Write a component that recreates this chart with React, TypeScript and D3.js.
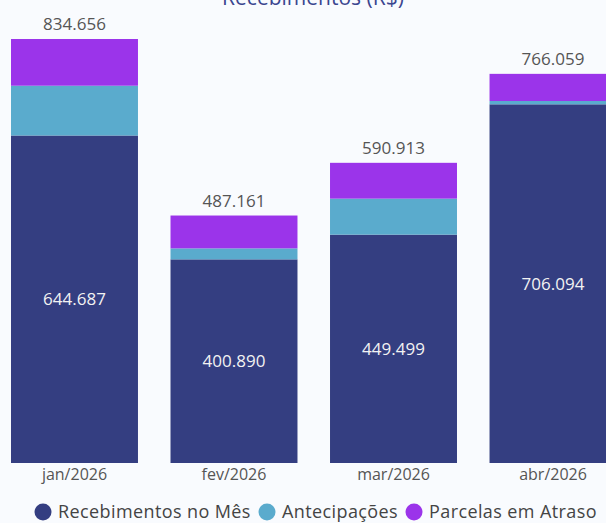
import React from "react";
import * as d3 from "d3";

const months = ["jan/2026", "fev/2026", "mar/2026", "abr/2026"];
const recebimentos = [644.687, 400.89, 449.499, 706.094];
const antecipacoes = [98.0, 21.6, 70.9, 6.5];
const atraso = [91.969, 64.671, 70.514, 53.465];
const totals = ["834.656", "487.161", "590.913", "766.059"];
const seriesNames = ["Recebimentos no Mês", "Antecipações", "Parcelas em Atraso"];
const colors = ["#343e81", "#5aabcd", "#9b34ea"];

const W = 606;
const H = 523;
const fmt = (v: number) => v.toFixed(3);

const App = () => {
  const rows = months.map((m, i) => ({
    month: m,
    r: recebimentos[i],
    a: antecipacoes[i],
    p: atraso[i],
  }));
  const stack = d3.stack<any>().keys(["r", "a", "p"]);
  const layers = stack(rows);

  // band starts at 11px, last bar runs past the right edge
  const x = d3.scaleBand().domain(months).range([11, 616.5]).paddingInner(0.204).paddingOuter(0);
  const y = d3.scaleLinear().domain([0, 834.656]).range([463, 39]);

  const font = "'Open Sans', 'Noto Sans', sans-serif";

  // legend positions: circle centre then label
  const legendX = [43, 267, 414];

  return (
    <div style={{ position: "absolute", left: 0, top: 0 }}>
      <svg width={W} height={H} style={{ display: "block", background: "#f9fbfe" }} fontFamily={font}>
        <text x={313} y={5} textAnchor="middle" fontSize={21} fill="#3b4690">
          Recebimentos (R$)
        </text>
        {layers.map((layer, li) => (
          <g key={li} fill={colors[li]}>
            {layer.map((d, i) => (
              <rect
                key={i}
                x={x(months[i])}
                y={y(d[1])}
                width={x.bandwidth()}
                height={y(d[0]) - y(d[1])}
              />
            ))}
          </g>
        ))}
        {rows.map((d, i) => (
          <g key={d.month}>
            <text
              x={(x(d.month) as number) + x.bandwidth() / 2}
              y={y(d.r + d.a + d.p) - 9}
              textAnchor="middle"
              fontSize={17}
              fill="#555"
            >
              {totals[i]}
            </text>
            <text
              x={(x(d.month) as number) + x.bandwidth() / 2}
              y={(y(0) + y(d.r)) / 2}
              dy="0.35em"
              textAnchor="middle"
              fontSize={17}
              fill="#f2f2f2"
            >
              {fmt(d.r)}
            </text>
            <text
              x={(x(d.month) as number) + x.bandwidth() / 2}
              y={480}
              textAnchor="middle"
              fontSize={16}
              fill="#555"
            >
              {d.month}
            </text>
          </g>
        ))}
        {seriesNames.map((s, i) => (
          <g key={s}>
            <circle cx={legendX[i]} cy={512} r={8.5} fill={colors[i]} />
            <text x={legendX[i] + 15} y={518} fontSize={18} letterSpacing={0.4} fill="#444">
              {s}
            </text>
          </g>
        ))}
      </svg>
    </div>
  );
};

export default App;
